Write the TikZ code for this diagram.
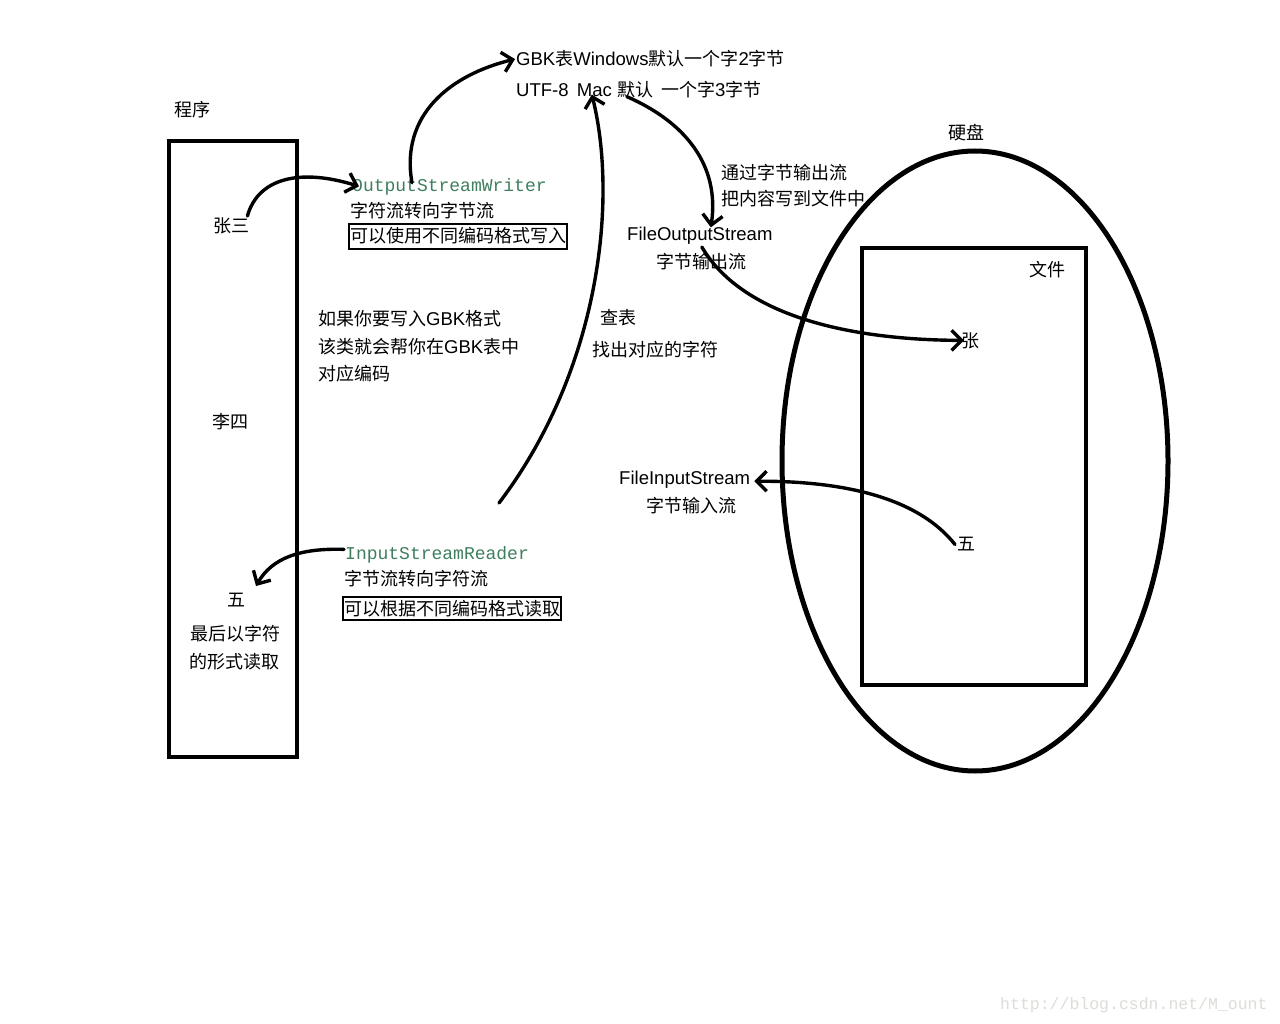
\documentclass[tikz,border=0pt]{standalone}
\usepackage{fontspec}
\setmainfont[Scale=1.03]{Liberation Sans}
\newfontfamily\cjk{Noto Sans CJK SC}
\newfontfamily\monofam{Liberation Mono}
\usetikzlibrary{arrows.meta,calc,shapes.geometric}
\definecolor{codegreen}{HTML}{3F7F5F}
\definecolor{markgrey}{HTML}{DDDDD8}
\newcommand{\zh}[1]{{\cjk #1}}
\tikzset{
  lbl/.style={inner sep=0pt,anchor=base west,font=\fontsize{18}{18}\selectfont},
  code/.style={inner sep=0pt,anchor=base west,text=codegreen,font=\fontsize{18}{18}\selectfont\monofam},
  boxed/.style={lbl,draw=black,line width=2pt,inner xsep=1pt,inner ysep=3pt},
  frame/.style={draw=black,line width=4pt},
  curve/.style={draw=black,line width=3.4pt,line cap=round,-{Straight Barb[length=10pt,width=20pt,line width=3.4pt]}}
}
\begin{document}
\begin{tikzpicture}[x=1pt,y=-1pt]
\useasboundingbox[fill=white] (0,0) rectangle (1280,1024);
% frames
\node[frame,inner sep=0pt,minimum width=128pt,minimum height=616pt] (prog) at (233,449) {};
\node[frame,ellipse,line width=5pt,inner sep=0pt,minimum width=386pt,minimum height=620pt] (disk) at (975,461) {};
\node[frame,inner sep=0pt,minimum width=224pt,minimum height=437pt] (file) at (974,466.5) {};
% labels
\node[lbl] (progt) at (174,117) {\zh{程序}};
\node[lbl] (zs) at (213,233) {\zh{张三}};
\node[lbl] (ls) at (212,428) {\zh{李四}};
\node[lbl] (wu) at (227,606) {\zh{五}};
\node[lbl] (l1) at (190,640) {\zh{最后以字符}};
\node[lbl] (l2) at (189,668) {\zh{的形式读取}};
\node[code] (osw) at (352,192) {OutputStreamWriter};
\node[lbl] (osw1) at (350,218) {\zh{字符流转向字节流}};
\node[boxed,inner ysep=4pt] (osw2) at (348,243) {\zh{可以使用不同编码格式写入}};
\node[code] (isr) at (345,559) {InputStreamReader};
\node[lbl] (isr1) at (344,585) {\zh{字节流转向字符流}};
\node[boxed] (isr2) at (342,615) {\zh{可以根据不同编码格式读取}};
\node[lbl] (gbk) at (516,66) {GBK\zh{表}Windows\zh{默认一个字}2\zh{字节}};
\node[lbl] (utf) at (516,97) {UTF-8\hspace{3pt} Mac \zh{默认}\hspace{3pt} \zh{一个字}3\zh{字节}};
\node[lbl] (w1) at (721,180) {\zh{通过字节输出流}};
\node[lbl] (w2) at (721,206) {\zh{把内容写到文件中}};
\node[lbl] (fos) at (627,241) {FileOutputStream};
\node[lbl] (fos1) at (656,269) {\zh{字节输出流}};
\node[lbl] (c1) at (318,326) {\zh{如果你要写入}GBK\zh{格式}};
\node[lbl] (c2) at (318,354) {\zh{该类就会帮你在}GBK\zh{表中}};
\node[lbl] (c3) at (318,381) {\zh{对应编码}};
\node[lbl] (ck1) at (600,325) {\zh{查表}};
\node[lbl] (ck2) at (592,356) {\zh{找出对应的字符}};
\node[lbl] (fis) at (619,484) {FileInputStream};
\node[lbl] (fis1) at (646,512) {\zh{字节输入流}};
\node[lbl] (dt) at (948,140) {\zh{硬盘}};
\node[lbl] (ft) at (1029,277) {\zh{文件}};
\node[lbl] (zhang) at (961,348) {\zh{张}};
\node[lbl] (wu2) at (957,550) {\zh{五}};
\node[inner sep=0pt,anchor=base west,text=markgrey,font=\fontsize{16.5}{16.5}\selectfont\monofam] (mark) at (1000,1009) {http://blog.csdn.net/M\_ount};
\coordinate (readstart) at (499,503);
% connectors
\draw[curve] ($(zs.north east)+(-2,-2)$) .. controls (258,178) and (300,168) .. ($(osw.west)+(7,-1)$);
\draw[curve] ($(osw.north west)+(60,4)$) .. controls (400,115) and (450,75) .. ($(gbk.west)+(-1,0)$);
\draw[curve] ($(utf.south)+(-12,-2)$) .. controls (685,122) and (720,165) .. ($(fos.north)+(11,0)$);
\draw[curve] ($(fos.south)+(2,2)$) .. controls (745,320) and (860,340) .. ($(zhang.west)+(3,-1)$);
\draw[curve] (readstart) .. controls (600,370) and (618,200) .. ($(utf.south)+(-47,-4)$);
\draw[curve] ($(wu2.west)+(-2,1)$) .. controls (920,500) and (850,481) .. ($(fis.east)+(4,2)$);
\draw[curve] ($(isr.west)+(-1,-5)$) .. controls (300,548) and (272,558) .. ($(prog.east)+(-43,137)$);
\end{tikzpicture}
\end{document}
